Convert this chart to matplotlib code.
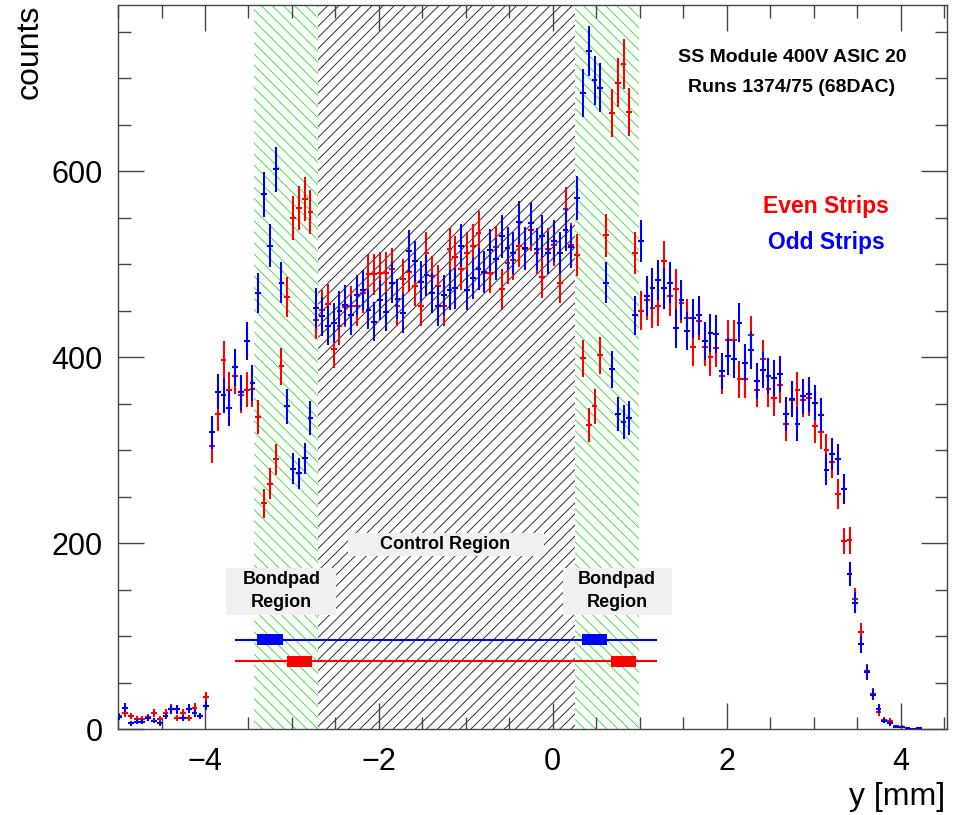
import numpy as np
import matplotlib
matplotlib.use("Agg")
import matplotlib.pyplot as plt
from matplotlib.patches import Rectangle
from matplotlib.ticker import MultipleLocator

plt.rcParams['font.family'] = ['Liberation Sans', 'DejaVu Sans']
plt.rcParams['hatch.linewidth'] = 0.65

# histogram binning (mm)
bin_w = 1.0 / 15
x_first = -4.987

# counts per bin
even = [14, 17, 14, 11, 11, 13, 17, 11, 17, 22, 12, 17, 12, 23, 14, 34,
        304, 339, 397, 365, 380, 359, 365, 366, 336, 243, 264, 290, 390, 465,
        550, 560, 570, 556, 440, 451, 457, 409, 434, 454, 455, 455, 469, 489,
        489, 491, 491, 495, 455, 484, 492, 477, 455, 512, 487, 477, 455, 516,
        508, 495, 512, 520, 534, 491, 491, 518, 473, 501, 505, 520, 516, 537,
        512, 486, 516, 521, 480, 559, 521, 510, 399, 327, 347, 402, 531, 663,
        695, 715, 664, 512, 450, 462, 453, 455, 503, 466, 473, 458, 442, 411,
        439, 411, 400, 410, 380, 419, 419, 376, 376, 424, 365, 398, 366, 356,
        370, 328, 354, 365, 354, 356, 326, 319, 300, 287, 253, 202, 203, 140,
        104, 62, 38, 18, 10, 9, 3, 2.5, 1]
odd = [13, 23, 6, 8, 8, 12, 9, 6, 14, 21, 21, 12, 22, 17, 14, 25,
       319, 363, 359, 345, 389, 362, 417, 372, 469, 575, 520, 602, 480, 347,
       280, 275, 291, 335, 453, 444, 434, 437, 450, 456, 445, 467, 472, 451,
       438, 461, 449, 480, 463, 447, 514, 503, 481, 488, 469, 455, 467, 472,
       474, 520, 472, 485, 495, 492, 515, 506, 530, 517, 512, 545, 517, 544,
       516, 530, 512, 525, 512, 537, 519, 571, 684, 729, 698, 690, 480, 387,
       339, 330, 335, 445, 525, 466, 474, 483, 474, 480, 431, 462, 428, 442,
       445, 417, 426, 425, 385, 401, 398, 437, 394, 408, 374, 386, 380, 378,
       382, 339, 355, 328, 358, 360, 351, 338, 279, 296, 290, 258, 167, 136,
       91, 61, 37, 22, 9, 6, 2.5, 2, 1, 0.5, 1]

# regions (mm)
bondpad_left = (-3.44, -2.70)
control = (-2.70, 0.26)
bondpad_right = (0.26, 0.99)

# strip marker rows: (y, x0, x1, boxes)
odd_row = (96, -3.64, 1.19, [(-3.40, -3.10), (0.33, 0.62)])
even_row = (73, -3.64, 1.19, [(-3.06, -2.77), (0.67, 0.96)])

even = np.array(even, dtype=float)
odd = np.array(odd, dtype=float)
x_even = x_first + np.arange(len(even)) * bin_w
x_odd = x_first + np.arange(len(odd)) * bin_w

fig = plt.figure(figsize=(9.55, 8.15), dpi=100)
ax = fig.add_axes([0.1236, 0.1055, 0.868, 0.888])

green = '#33e633'
for lo, hi in [bondpad_left, bondpad_right]:
    ax.axvspan(lo, hi, facecolor='none', edgecolor=green, hatch='\\\\\\', lw=0, zorder=1)
ax.axvspan(control[0], control[1], facecolor='none', edgecolor='#222222', hatch='///', lw=0, zorder=1)

# label boxes
def label_box(x0, x1, y0, y1, lines, xc, ys):
    ax.add_patch(Rectangle((x0, y0), x1 - x0, y1 - y0, facecolor='#f0f0f0',
                           edgecolor='none', zorder=3))
    for txt, yy in zip(lines, ys):
        ax.text(xc, yy, txt, ha='center', va='center', fontsize=13,
                fontweight='bold', zorder=4)

label_box(-2.353, -0.104, 186, 211, ['Control Region'], -1.234, [198.5])
label_box(-3.76, -2.49, 122.6, 173, ['Bondpad', 'Region'], -3.12, [161, 136])
label_box(0.115, 1.372, 122.6, 173, ['Bondpad', 'Region'], 0.738, [161, 136])

for row, col in [(odd_row, 'blue'), (even_row, 'red')]:
    yy, x0, x1, boxes = row
    ax.plot([x0, x1], [yy, yy], color=col, lw=1.5, zorder=3)
    for b0, b1 in boxes:
        ax.add_patch(Rectangle((b0, yy - 6), b1 - b0, 12, facecolor=col,
                               edgecolor='none', zorder=4))

ax.errorbar(x_even, even, yerr=np.sqrt(even), xerr=bin_w / 2, fmt='none',
            ecolor='red', elinewidth=1.5, capsize=0, zorder=5)
ax.errorbar(x_odd, odd, yerr=np.sqrt(odd), xerr=bin_w / 2, fmt='none',
            ecolor='blue', elinewidth=1.5, capsize=0, zorder=6)

ax.set_xlim(-5, 4.533)
ax.set_ylim(0, 778.5)
ax.xaxis.set_major_locator(MultipleLocator(2))
ax.xaxis.set_minor_locator(MultipleLocator(0.5))
ax.yaxis.set_major_locator(MultipleLocator(200))
ax.yaxis.set_minor_locator(MultipleLocator(50))
ax.tick_params(which='both', direction='in', top=True, right=True, color='#444444',
               labelsize=22)
ax.tick_params(which='major', length=19, width=1.0)
ax.tick_params(which='minor', length=9, width=1.0)
ax.tick_params(axis='x', which='major', pad=13)
ax.tick_params(axis='y', which='major', pad=11)
for s in ax.spines.values():
    s.set_color('#444444')
    s.set_linewidth(1.0)

fig.text(30 / 955, 1 - 5 / 815, 'counts', rotation=90, ha='center', va='top', fontsize=23)
fig.text(945 / 955, 1 - 797 / 815, 'y [mm]', ha='right', va='center', fontsize=23)

fig.text(792 / 955, 1 - 58 / 815, 'SS Module 400V ASIC 20', ha='center', va='center',
         fontsize=14, fontweight='bold')
fig.text(792 / 955, 1 - 88 / 815, 'Runs 1374/75 (68DAC)', ha='center', va='center',
         fontsize=14, fontweight='bold')
fig.text(826 / 955, 1 - 206 / 815, 'Even Strips', ha='center', va='center',
         fontsize=16.5, fontweight='bold', color='red')
fig.text(826 / 955, 1 - 242 / 815, 'Odd Strips', ha='center', va='center',
         fontsize=16.5, fontweight='bold', color='blue')

fig.savefig('out.png', dpi=100)
